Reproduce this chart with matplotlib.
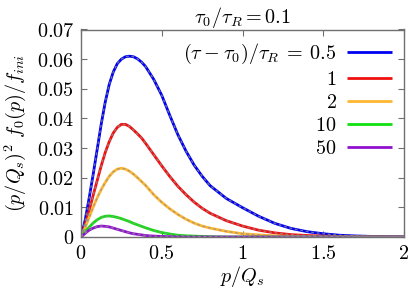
#!/usr/bin/env python3

import numpy as np
import matplotlib
matplotlib.use("Agg")
import matplotlib.pyplot as plt

plt.rcParams["mathtext.fontset"] = "cm"
plt.rcParams["font.family"] = ["DejaVu Serif"]

# momentum grid (p/Q_s) and curves
p = [0, 0.025, 0.05, 0.075, 0.1, 0.125, 0.15, 0.175, 0.2, 0.225, 0.25, 0.275,
     0.3, 0.325, 0.35, 0.375, 0.4, 0.45, 0.5, 0.55, 0.6, 0.65, 0.7, 0.75, 0.8,
     0.9, 1.0, 1.1, 1.2, 1.3, 1.4, 1.5, 1.6, 1.7, 1.8, 1.9, 2.0]

f_05 = [0, 0.0055, 0.0130, 0.0210, 0.0295, 0.0380, 0.0455, 0.0515, 0.0557,
        0.0585, 0.0600, 0.0608, 0.0610, 0.0608, 0.0601, 0.0590, 0.0575, 0.0532,
        0.0478, 0.0410, 0.0345, 0.0290, 0.0243, 0.0205, 0.0173, 0.0130, 0.0099,
        0.0070, 0.0046, 0.0029, 0.0018, 0.0011, 0.0006, 0.00035, 0.0002,
        0.0001, 0.00005]
f_1 = [0, 0.0038, 0.0088, 0.0140, 0.0190, 0.0240, 0.0285, 0.0322, 0.0351,
       0.0370, 0.0380, 0.0380, 0.0373, 0.0361, 0.0348, 0.0334, 0.0316, 0.0278,
       0.0240, 0.0204, 0.0171, 0.0143, 0.0118, 0.0097, 0.0080, 0.0055, 0.0037,
       0.0023, 0.0014, 0.0008, 0.0005, 0.0003, 0.00015, 0.0001, 0.00005, 0, 0]
f_2 = [0, 0.0030, 0.0066, 0.0100, 0.0132, 0.0160, 0.0184, 0.0205, 0.0220,
       0.0229, 0.0232, 0.0229, 0.0222, 0.0212, 0.0200, 0.0187, 0.0174, 0.0143,
       0.0117, 0.0095, 0.0076, 0.0060, 0.0047, 0.0037, 0.0030, 0.0019, 0.0011,
       0.0007, 0.0004, 0.0002, 0.0001, 0, 0, 0, 0, 0, 0]
f_10 = [0, 0.0017, 0.0033, 0.0047, 0.0058, 0.0066, 0.0070, 0.0071, 0.0069,
        0.0066, 0.0062, 0.0057, 0.0052, 0.0046, 0.0041, 0.0036, 0.0031, 0.0022,
        0.0015, 0.0010, 0.0006, 0.0004, 0.0003, 0.0002, 0.0001, 0, 0, 0, 0, 0,
        0, 0, 0, 0, 0, 0, 0]
f_50 = [0, 0.0012, 0.0023, 0.0030, 0.0035, 0.0037, 0.0036, 0.0034, 0.0030,
        0.0026, 0.0022, 0.0018, 0.0014, 0.0011, 0.0009, 0.0007, 0.0005, 0.0003,
        0.0002, 0.0001, 0.00005, 0, 0, 0, 0, 0, 0, 0, 0, 0, 0, 0, 0, 0, 0, 0, 0]

labels = [r"$(\tau\:-\:\tau_0)/\tau_R\:=\:0.5$", r"$1$", r"$2$", r"$10$", r"$50$"]
colors = ["#0000f0", "#f01010", "#ffb730", "#10e010", "#9010d0"]
series = [f_05, f_1, f_2, f_10, f_50]

xticks = [0, 0.5, 1, 1.5, 2]
xticklabels = [r"$0$", r"$0.5$", r"$1$", r"$1.5$", r"$2$"]
yticks = [0, 0.01, 0.02, 0.03, 0.04, 0.05, 0.06, 0.07]
yticklabels = [r"$0$"] + [r"$%.2f$" % v for v in yticks[1:]]

fig = plt.figure(figsize=(4.09, 2.91), dpi=100)
ax = fig.add_axes([81 / 409, 54 / 291, 323 / 409, 207.5 / 291])

for y, c, lab in zip(series, colors, labels):
    ax.plot(p, y, color=c, lw=2.0, label=lab, solid_capstyle="butt")
# gray dashed analytic curves on top
for y in series:
    ax.plot(p, y, color="#909090", lw=1.0, ls=(0, (2, 2)), alpha=0.75)

ax.set_xlim(0, 2)
ax.set_ylim(0, 0.07)
ax.set_xticks(xticks)
ax.set_xticklabels(xticklabels)
ax.set_yticks(yticks)
ax.set_yticklabels(yticklabels)
ax.tick_params(direction="in", top=True, right=True, length=4.5, width=0.8,
               color="#707070", labelsize=14.5, pad=5)
for s in ax.spines.values():
    s.set_color("#707070")
    s.set_linewidth(1.0)

ax.set_xlabel(r"$p/Q_s$", fontsize=14.5, labelpad=1)
ax.set_ylabel(r"$(p/Q_s)^2\ f_0(p)/f_{ini}$", fontsize=14.5, labelpad=6)
ax.set_title(r"$\tau_0/\tau_R=0.1$", fontsize=14.5, pad=5)

ax.legend(loc="upper right", bbox_to_anchor=(1, 1), frameon=False,
          markerfirst=False, fontsize=14.5, handlelength=2.25,
          handletextpad=0.5, labelspacing=0.2, borderaxespad=0.3,
          borderpad=0.3)

fig.savefig("out.png", dpi=100)
